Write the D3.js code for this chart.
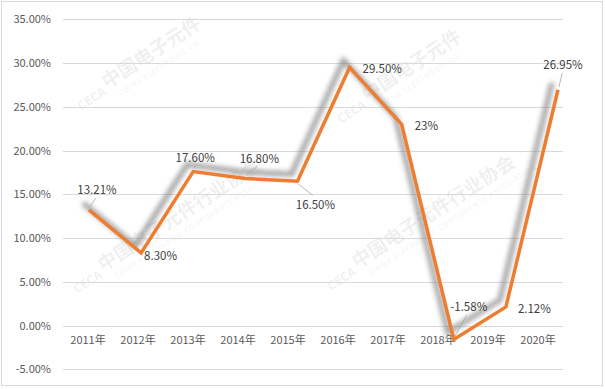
<!DOCTYPE html>
<meta charset="utf-8">
<style>
	body { margin: 0; background: #fff; }
	* { font-family: "Microsoft YaHei", "Noto Sans CJK SC", "DejaVu Sans", sans-serif; }
	.grid line { stroke: #d9d9d9; stroke-width: 1px; }
	.grid .domain { display: none; }
	.axis text { fill: #595959; font-size: 11px; }
	.axis .domain, .axis line { display: none; }
	.label { fill: #404040; font-size: 11.5px; }
	.leader { stroke: #a6a6a6; stroke-width: 0.8px; }
	.growth { fill: none; stroke: #ed7d31; stroke-width: 3.5px; stroke-linejoin: miter; }
	.shade { fill: none; stroke: #7f7f7f; stroke-width: 5px; opacity: 0.75; }
	.mark text { fill: #000; opacity: 0.06; }
</style>
<body>
<div id="chart"></div>
<script src="https://d3js.org/d3.v7.min.js"></script>
<script>
	// chart data
	var years = ["2011年", "2012年", "2013年", "2014年", "2015年", "2016年", "2017年", "2018年", "2019年", "2020年"];
	var growth = [13.21, 8.30, 17.60, 16.80, 16.50, 29.50, 23, -1.58, 2.12, 26.95];
	var value_labels = ["13.21%", "8.30%", "17.60%", "16.80%", "16.50%", "29.50%", "23%", "-1.58%", "2.12%", "26.95%"];
	var y_ticks = [-5, 0, 5, 10, 15, 20, 25, 30, 35];

	var width = 605, height = 389;

	var svg = d3.select("#chart").append("svg")
			.attr("width", width)
			.attr("height", height);

	// outer frame
	svg.append("rect")
			.attr("x", 1.5).attr("y", 1.5)
			.attr("width", 601).attr("height", 384)
			.attr("fill", "#fff")
			.attr("stroke", "#d9d9d9");

	// faint watermark (the top ones only show their first part, as in the source)
	var marks = [
		[104, 84, "中国电子元件", "CHINA ELECTRONIC CO"],
		[100, 267, "中国电子元件行业协会", "CHINA ELECTRONIC COMPONENTS ASSOCIATION"],
		[354, 264, "中国电子元件行业协会", "CHINA ELECTRONIC COMPONENTS ASSOCIATION"],
		[364, 97, "中国电子元件", "CHINA ELECTRONIC CO"]
	];
	var wm = svg.append("g").attr("class", "mark");
	marks.forEach(function (p) {
		var g = wm.append("g").attr("transform", "translate(" + p[0] + "," + p[1] + ") rotate(-33)");
		g.append("text").attr("y", 6)
				.style("font-size", "19px").style("font-weight", "bold")
				.text(p[2]);
		g.append("text").attr("y", 19).attr("x", 8)
				.style("font-size", "7px").style("letter-spacing", "1px")
				.text(p[3]);
		g.append("text").attr("text-anchor", "end").attr("x", -3).attr("y", 10)
				.style("font-size", "12px").style("font-weight", "bold")
				.text("CECA");
	});

	var y = d3.scaleLinear().domain([-5, 35]).range([369.3, 19.3]);
	// category axis (labels) and line positions
	var x_band = d3.scaleBand().domain(years).range([63, 563]);
	var x = d3.scalePoint().domain(years).range([89, 558]);

	// gridlines
	svg.append("g")
			.attr("class", "grid")
			.attr("transform", "translate(63,0)")
			.call(d3.axisLeft(y).tickValues(y_ticks).tickSize(-500).tickFormat(""))
			.selectAll("line").attr("shape-rendering", "crispEdges");

	// y axis labels
	svg.append("g")
			.attr("class", "axis")
			.attr("transform", "translate(56,0)")
			.call(d3.axisLeft(y).tickValues(y_ticks).tickSize(0).tickPadding(5)
					.tickFormat(function (d) { return d.toFixed(2) + "%"; }));

	// x axis labels
	svg.append("g")
			.attr("class", "axis")
			.attr("transform", "translate(0,336)")
			.call(d3.axisBottom(x_band).tickSize(0).tickPadding(0));

	// blurred shadow
	var defs = svg.append("defs");
	defs.append("filter")
			.attr("id", "blur")
			.attr("x", "-20%").attr("y", "-20%")
			.attr("width", "140%").attr("height", "140%")
			.append("feGaussianBlur")
			.attr("stdDeviation", 2.6);

	var line = d3.line()
			.x(function (d, i) { return x(years[i]); })
			.y(function (d) { return y(d); });

	svg.append("path")
			.datum(growth)
			.attr("class", "shade")
			.attr("transform", "translate(-6,-7)")
			.attr("filter", "url(#blur)")
			.attr("d", line);

	// label offsets relative to each point: [dx, dy, anchor, leader]
	var offsets = [
		[8, -20, "middle", true],
		[3, 3, "start", false],
		[2, -14, "middle", true],
		[14, -20, "middle", true],
		[18, 24, "middle", true],
		[13, 2, "start", false],
		[13, 2, "start", false],
		[15, -32, "middle", true],
		[12, 2, "start", false],
		[5, -25, "middle", true]
	];

	svg.append("path")
			.datum(growth)
			.attr("class", "growth")
			.attr("d", line);

	// leader lines
	var with_leader = d3.range(growth.length).filter(function (i) { return offsets[i][3]; });
	svg.selectAll(".leader")
			.data(with_leader)
			.enter().append("line")
			.attr("class", "leader")
			.attr("x1", function (i) { return x(years[i]) + 1; })
			.attr("y1", function (i) { return y(growth[i]) + (offsets[i][1] < 0 ? -3 : 3); })
			.attr("x2", function (i) { return x(years[i]) + offsets[i][0] * 0.85; })
			.attr("y2", function (i) { return y(growth[i]) + offsets[i][1] + (offsets[i][1] < 0 ? 8 : -10); });

	svg.selectAll(".label")
			.data(growth)
			.enter().append("text")
			.attr("class", "label")
			.attr("x", function (d, i) { return x(years[i]) + offsets[i][0]; })
			.attr("y", function (d, i) { return y(d) + offsets[i][1]; })
			.attr("dy", "0.35em")
			.attr("text-anchor", function (d, i) { return offsets[i][2]; })
			.text(function (d, i) { return value_labels[i]; });
</script>
</body>
